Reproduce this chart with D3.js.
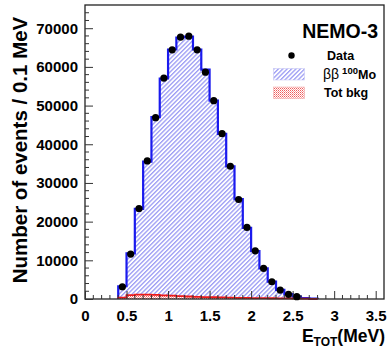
<!DOCTYPE html>
<html><head><meta charset="utf-8">
<script src="https://cdn.jsdelivr.net/npm/d3@7"></script>
<style>body{margin:0;background:#fff}svg{display:block}text{font-family:"Liberation Sans",Arial,sans-serif}</style>
</head><body><svg id="c" width="389" height="348"></svg>
<script>
const binWidth = 0.1;
const binStarts = [0.4,0.5,0.6,0.7,0.8,0.9,1.0,1.1,1.2,1.3,1.4,1.5,1.6,1.7,1.8,1.9,2.0,2.1,2.2,2.3,2.4,2.5,2.6,2.7];
const dataCounts = [3170,11610,23400,35680,46880,57100,64420,67670,67930,64420,58640,51260,42750,34310,25720,18500,12460,7920,4460,2320,1210,590];
const mcTotal = [3300,11800,23300,35500,47000,57000,64500,67600,67800,64500,59300,51300,42700,34300,25800,18400,12400,7900,4500,2350,1250,600,260,90];
const bkgCounts = [350,1000,1150,1150,1050,950,850,750,650,560,500,450,400,350,310,280,250,230,200,180,150,120,80,50];
const xTicks = [0,0.5,1,1.5,2,2.5,3,3.5];
const yTicks = [0,10000,20000,30000,40000,50000,60000,70000];

const svg = d3.select("#c");
const x = d3.scaleLinear().domain([0,3.6]).range([85,384]);
const y = d3.scaleLinear().domain([0,76000]).range([299,5]);

const defs = svg.append("defs");
const hp = defs.append("pattern").attr("id","hatch").attr("patternUnits","userSpaceOnUse")
  .attr("width",3.1).attr("height",10).attr("patternTransform","rotate(45)");
hp.append("rect").attr("width",3.1).attr("height",10).attr("fill","#fff");
hp.append("line").attr("x1",0.7).attr("y1",0).attr("x2",0.7).attr("y2",10).attr("stroke","#6e6ef0").attr("stroke-width",0.9);
const rp = defs.append("pattern").attr("id","cross").attr("patternUnits","userSpaceOnUse")
  .attr("width",2).attr("height",2);
rp.append("rect").attr("width",2).attr("height",2).attr("fill","#fff");
rp.append("rect").attr("width",1).attr("height",1).attr("fill","#f05a5a");
rp.append("rect").attr("x",1).attr("y",1).attr("width",1).attr("height",1).attr("fill","#f5a0a0");

function stepPts(vals){
  const pts=[[binStarts[0],0]];
  vals.forEach((v,i)=>{pts.push([binStarts[i],v]);pts.push([binStarts[i]+binWidth,v]);});
  pts.push([binStarts[vals.length-1]+binWidth,0]);
  return pts;
}
const line = d3.line().x(d=>x(d[0])).y(d=>y(d[1]));

svg.append("path").attr("d",line(stepPts(mcTotal))+"Z").attr("fill","url(#hatch)");
svg.append("path").attr("d",line(stepPts(bkgCounts))+"Z").attr("fill","url(#cross)");
svg.append("path").attr("d",line(stepPts(mcTotal))).attr("fill","none").attr("stroke","#1a1aee").attr("stroke-width",2.2);
svg.append("path").attr("d",line(stepPts(bkgCounts))).attr("fill","none").attr("stroke","#ee1a1a").attr("stroke-width",1.8);

svg.append("rect").attr("x",x(0)).attr("y",y(76000)).attr("width",x(3.6)-x(0)).attr("height",y(0)-y(76000))
  .attr("fill","none").attr("stroke","#222").attr("stroke-width",1.3);

const yAx = d3.axisLeft(y).tickValues(yTicks).tickSize(-8).tickPadding(14).tickFormat(d3.format("d"));
const ga = svg.append("g").attr("transform",`translate(${x(0)},0)`).call(yAx);
const yMinor = d3.range(0,76000,2000).filter(v=>v%10000!==0);
svg.append("g").selectAll("line").data(yMinor).join("line")
  .attr("x1",x(0)).attr("x2",x(0)+4).attr("y1",d=>y(d)).attr("y2",d=>y(d)).attr("stroke","#333");
const xAx = d3.axisBottom(x).tickValues(xTicks).tickSize(-8).tickPadding(14).tickFormat(d=>d===0?"0":String(d));
const gb = svg.append("g").attr("transform",`translate(0,${y(0)})`).call(xAx);
const xMinor = d3.range(0.1,3.6,0.1).filter(v=>Math.abs(v*2-Math.round(v*2))>0.01);
svg.append("g").selectAll("line").data(xMinor).join("line")
  .attr("x1",d=>x(d)).attr("x2",d=>x(d)).attr("y1",y(0)).attr("y2",y(0)-4).attr("stroke","#333");
[ga,gb].forEach(g=>{g.select(".domain").remove();g.selectAll(".tick line").attr("stroke","#333");
  g.selectAll("text").attr("font-size",15).attr("font-weight","bold").attr("fill","#000");});
ga.selectAll("text").attr("dx",7);
gb.selectAll("text").attr("dy","0.5em");

svg.append("g").selectAll("circle").data(dataCounts).join("circle")
  .attr("cx",(d,i)=>x(binStarts[i]+binWidth/2)).attr("cy",d=>y(d)).attr("r",3.6).attr("fill","#000");

svg.append("text").attr("transform","translate(27,150) rotate(-90)").attr("text-anchor","middle")
  .attr("font-size",20.5).attr("font-weight","bold").text("Number of events / 0.1 MeV");
const xl = svg.append("text").attr("x",385).attr("y",342).attr("text-anchor","end").attr("font-size",17.5).attr("font-weight","bold");
xl.append("tspan").text("E");
xl.append("tspan").attr("font-size",12).attr("dy",4).text("TOT");
xl.append("tspan").attr("dy",-4).text("(MeV)");

svg.append("text").attr("x",378).attr("y",38).attr("text-anchor","end").attr("font-size",19.5).attr("font-weight","bold").text("NEMO-3");
svg.append("circle").attr("cx",291.5).attr("cy",55.5).attr("r",3.2).attr("fill","#000");
svg.append("text").attr("x",327).attr("y",60).attr("font-size",12.5).attr("font-weight","bold").text("Data");
svg.append("rect").attr("x",273.5).attr("y",68.5).attr("width",31).attr("height",11.5).attr("fill","url(#hatch)").attr("stroke","#c8c8f4").attr("stroke-width",0.6);
const lt = svg.append("text").attr("x",323).attr("y",79).attr("font-size",14);
lt.append("tspan").text("ββ");
lt.append("tspan").attr("font-size",9.5).attr("font-weight","bold").attr("dy",-5).attr("dx",3).text("100");
lt.append("tspan").attr("font-size",12.5).attr("font-weight","bold").attr("dy",5).text("Mo");
svg.append("rect").attr("x",273.5).attr("y",87).attr("width",31).attr("height",11.5).attr("fill","url(#cross)").attr("stroke","#f4b0b0").attr("stroke-width",0.6);
svg.append("text").attr("x",324).attr("y",97).attr("font-size",12.5).attr("font-weight","bold").text("Tot bkg");
</script></body></html>
